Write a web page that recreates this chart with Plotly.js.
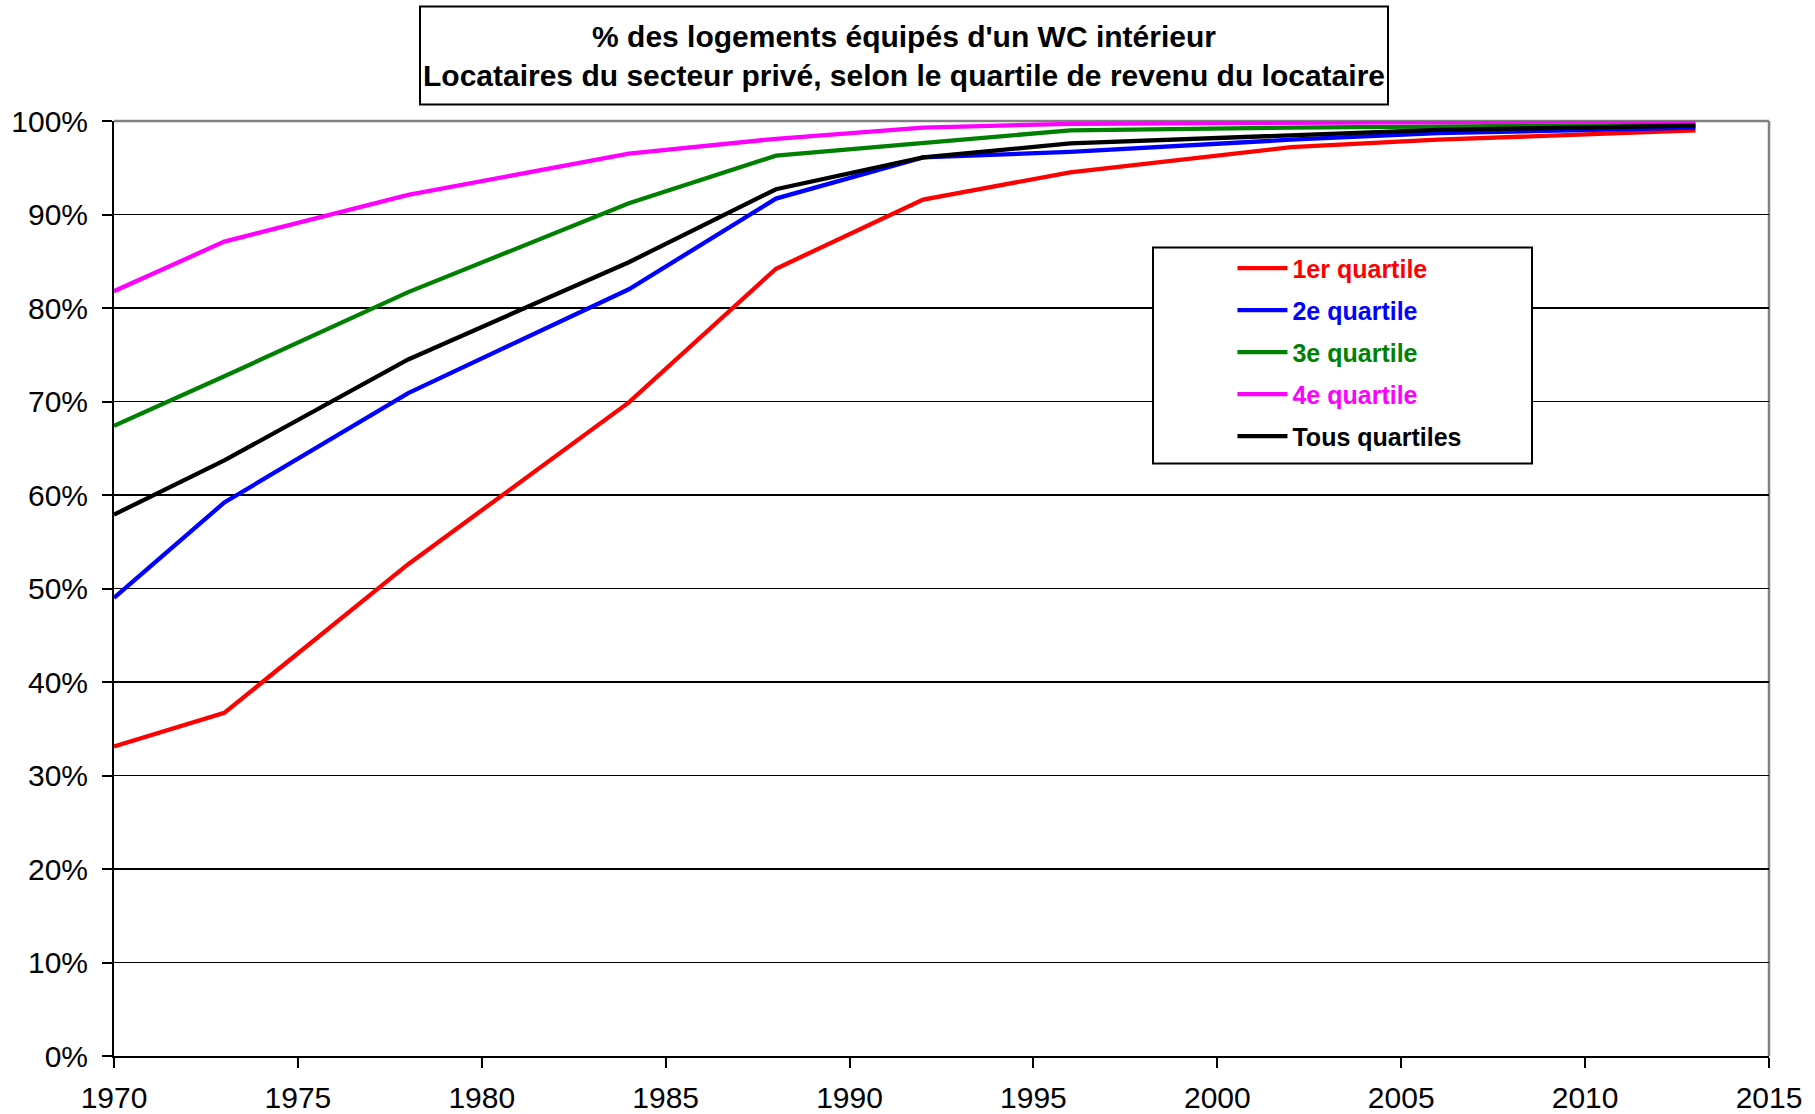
<!DOCTYPE html>
<html>
<head>
<meta charset="utf-8">
<script src="https://cdn.plot.ly/plotly-3.0.1.min.js"></script>
<style>
html,body{margin:0;padding:0;background:#fff;}
#chart{width:1815px;height:1114px;}
</style>
</head>
<body>
<div id="chart"></div>
<script>
// Survey years
const years = [1970, 1973, 1978, 1984, 1988, 1992, 1996, 2002, 2006, 2013];
// % of dwellings with an indoor WC, by income quartile of the tenant
const q1 = [33.1, 36.7, 52.6, 69.9, 84.2, 91.6, 94.5, 97.2, 98.0, 99.0];
const q2 = [49.0, 59.2, 70.9, 82.0, 91.7, 96.1, 96.7, 98.0, 98.7, 99.3];
const q3 = [67.4, 72.7, 81.7, 91.2, 96.3, 97.6, 99.0, 99.3, 99.4, 99.6];
const q4 = [81.8, 87.1, 92.1, 96.5, 98.1, 99.3, 99.7, 99.8, 99.8, 100.0];
const tous = [57.9, 63.7, 74.5, 84.9, 92.7, 96.1, 97.6, 98.5, 99.05, 99.5];

const seriesNames = ["1er quartile", "2e quartile", "3e quartile", "4e quartile", "Tous quartiles"];
const seriesColors = ["#FF0000", "#0000FF", "#008000", "#FF00FF", "#000000"];
const seriesValues = [q1, q2, q3, q4, tous];

const yTicks = [0, 10, 20, 30, 40, 50, 60, 70, 80, 90, 100];
const xTicks = [1970, 1975, 1980, 1985, 1990, 1995, 2000, 2005, 2010, 2015];

const FONT = "Liberation Sans, Arial, sans-serif";

const traces = seriesValues.map((vals, i) => ({
  type: "scatter",
  mode: "lines",
  x: years,
  y: vals,
  name: '<span style="color:' + seriesColors[i] + '">' + seriesNames[i] + '</span>',
  legendgroup: "g" + i,
  line: {color: seriesColors[i], width: 4.3},
  hoverinfo: "x+y"
}));

const layout = {
  width: 1815,
  height: 1114,
  paper_bgcolor: "#ffffff",
  plot_bgcolor: "#ffffff",
  margin: {l: 114, r: 46, t: 120.5, b: 58.4, pad: 0},
  font: {family: FONT, color: "#000000", size: 30},
  title: {
    text: "% des logements équipés d'un WC intérieur<br>Locataires du secteur privé, selon le quartile de revenu du locataire",
    font: {family: FONT, size: 30, color: "#000000", weight: "bold"},
    x: 904 / 1815,
    xanchor: "center",
    xref: "container",
    yref: "container",
    y: 1 - 47 / 1114,
    yanchor: "middle"
  },
  xaxis: {
    range: [1970, 2015],
    tickvals: xTicks,
    ticktext: xTicks.map(String),
    showgrid: false,
    zeroline: false,
    showline: true,
    linecolor: "#000000",
    linewidth: 2,
    ticks: "outside",
    ticklen: 10,
    tickwidth: 2,
    tickcolor: "#000000",
    ticklabelstandoff: 4,
    tickfont: {family: FONT, size: 30, color: "#000000"}
  },
  yaxis: {
    range: [0, 100],
    tickvals: yTicks,
    ticktext: yTicks.map(v => v + "%"),
    showgrid: true,
    gridcolor: "#000000",
    gridwidth: 1.5,
    zeroline: false,
    showline: true,
    linecolor: "#000000",
    linewidth: 2,
    ticks: "outside",
    ticklen: 10,
    tickwidth: 2,
    tickcolor: "#000000",
    ticklabelstandoff: 8,
    tickfont: {family: FONT, size: 30, color: "#000000"}
  },
  showlegend: true,
  legend: {
    x: 0.6758,
    xanchor: "left",
    y: 0.867,
    yanchor: "top",
    bgcolor: "rgba(0,0,0,0)",
    borderwidth: 0,
    traceorder: "grouped",
    tracegroupgap: 6.5,
    itemwidth: 50,
    font: {family: FONT, size: 25, color: "#000000", weight: "bold"}
  },
  shapes: [
    // gray top and right border of the plot area
    {type: "line", xref: "paper", yref: "paper", x0: 0, x1: 1, y0: 1, y1: 1,
     line: {color: "#808080", width: 2.5}, layer: "between"},
    {type: "line", xref: "paper", yref: "paper", x0: 1, x1: 1, y0: 0, y1: 1,
     line: {color: "#808080", width: 2.5}, layer: "between"},
    // legend box
    {type: "rect", xref: "paper", yref: "paper", x0: 0.6278, x1: 0.8568, y0: 0.6337, y1: 0.8647,
     line: {color: "#000000", width: 2}, fillcolor: "#ffffff", layer: "above"},
    // title box
    {type: "rect", xref: "paper", yref: "paper", x0: 0.1849, x1: 0.7698, y0: 1.0176, y1: 1.1224,
     line: {color: "#000000", width: 2}, fillcolor: "rgba(0,0,0,0)", layer: "above"}
  ]
};

Plotly.newPlot("chart", traces, layout, {staticPlot: true, displayModeBar: false});
</script>
</body>
</html>
